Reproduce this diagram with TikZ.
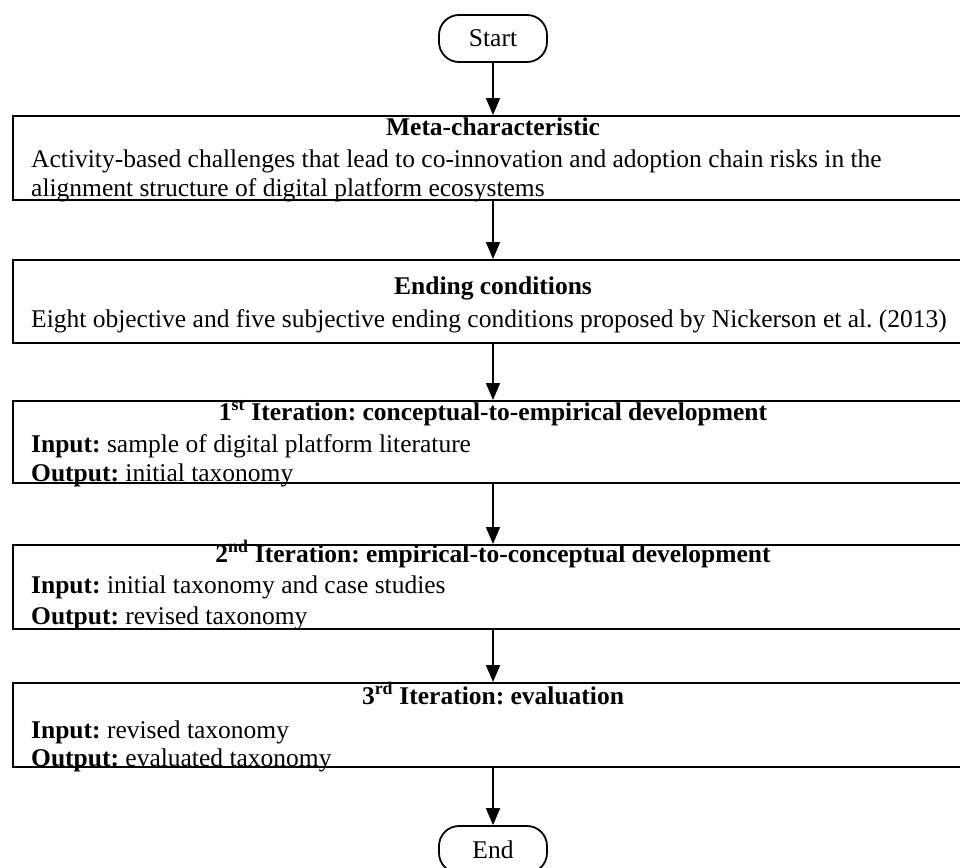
\documentclass[tikz,border=0pt]{standalone}
\usepackage{fontspec}
\setmainfont{Liberation Serif}
\usetikzlibrary{arrows.meta}
\frenchspacing
\begin{document}
\begin{tikzpicture}[x=1pt,y=-1pt,
  font=\fontsize{25.5}{30}\selectfont,
  stage/.style={draw,line width=2pt,rectangle,minimum width=960pt,inner sep=0pt},
  terminal/.style={draw,line width=1.8pt,rectangle,rounded corners=20pt,minimum width=108pt,minimum height=47pt,inner sep=0pt},
  ttl/.style={anchor=base,inner sep=0pt,font=\fontsize{25.5}{30}\selectfont\bfseries},
  body/.style={anchor=base west,inner sep=0pt},
  flow/.style={line width=1.8pt,-{Triangle[width=14pt,length=17pt]}}]
\useasboundingbox (0,0) rectangle (960,867);
\clip (0,0) rectangle (960,867);

% terminals
\node[terminal] (start) at (493,38.5) {Start};
\node[terminal] (end) at (493,849.5) {End};

% stage boxes (right edge runs past the page)
\node[stage,minimum height=84pt] (meta) at (493,158) {};
\node[stage,minimum height=83pt] (cond) at (493,301.5) {};
\node[stage,minimum height=82pt] (it1) at (493,442) {};
\node[stage,minimum height=84pt] (it2) at (493,587) {};
\node[stage,minimum height=84pt] (it3) at (493,725) {};

% texts
\node[ttl] (metaT) at (493,135) {Meta-characteristic};
\node[body] (metaA) at (31,167) {Activity-based challenges that lead to co-innovation and adoption chain risks in the};
\node[body] (metaB) at (31,196) {alignment structure of digital platform ecosystems};

\node[ttl] (condT) at (493,294) {Ending conditions};
\node[body] (condA) at (31,327) {Eight objective and five subjective ending conditions proposed by Nickerson et al. (2013)};

\node[ttl] (it1T) at (493,420) {1\textsuperscript{st} Iteration: conceptual-to-empirical development};
\node[body] (it1A) at (31,452) {\textbf{Input:} sample of digital platform literature};
\node[body] (it1B) at (31,481) {\textbf{Output:} initial taxonomy};

\node[ttl] (it2T) at (493,562) {2\textsuperscript{nd} Iteration: empirical-to-conceptual development};
\node[body] (it2A) at (31,593) {\textbf{Input:} initial taxonomy and case studies};
\node[body] (it2B) at (31,624) {\textbf{Output:} revised taxonomy};

\node[ttl] (it3T) at (493,704) {3\textsuperscript{rd} Iteration: evaluation};
\node[body] (it3A) at (31,738) {\textbf{Input:} revised taxonomy};
\node[body] (it3B) at (31,766) {\textbf{Output:} evaluated taxonomy};

% connectors
\draw[flow] (start.south) -- (meta.north);
\draw[flow] (meta.south) -- (cond.north);
\draw[flow] (cond.south) -- (it1.north);
\draw[flow] (it1.south) -- (it2.north);
\draw[flow] (it2.south) -- (it3.north);
\draw[flow] (it3.south) -- (end.north);
\end{tikzpicture}
\end{document}
